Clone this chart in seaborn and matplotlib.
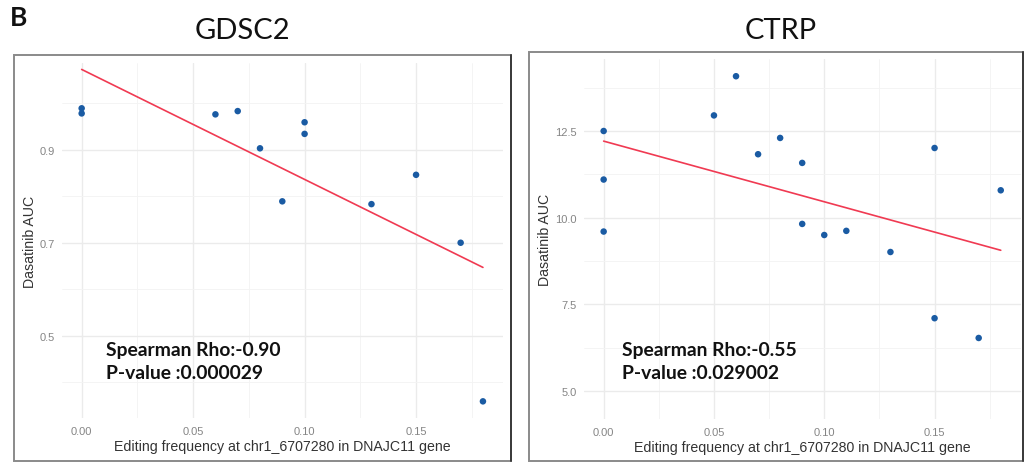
import numpy as np
import pandas as pd
import matplotlib
matplotlib.use("Agg")
import matplotlib.pyplot as plt
from matplotlib.patches import Rectangle
from matplotlib.ticker import MultipleLocator, FormatStrFormatter
import seaborn as sns

# GDSC2: editing frequency vs Dasatinib AUC
gdsc_freq = [0.00, 0.00, 0.06, 0.07, 0.08, 0.09, 0.10, 0.10, 0.13, 0.15, 0.17, 0.18]
gdsc_auc = [0.989, 0.978, 0.976, 0.983, 0.903, 0.789, 0.959, 0.934, 0.783, 0.846, 0.700, 0.359]

# CTRP: editing frequency vs Dasatinib AUC
ctrp_freq = [0.00, 0.00, 0.00, 0.05, 0.06, 0.07, 0.08, 0.09, 0.09, 0.10, 0.11, 0.13,
             0.15, 0.15, 0.17, 0.18]
ctrp_auc = [12.50, 11.10, 9.60, 12.95, 14.08, 11.83, 12.30, 11.58, 9.82, 9.50, 9.62, 9.01,
            12.01, 7.10, 6.53, 10.79]

panel_titles = ["GDSC2", "CTRP"]
stat_labels = [("Spearman Rho:-0.90", "P-value :0.000029"),
               ("Spearman Rho:-0.55", "P-value :0.029002")]
x_label = "Editing frequency at chr1_6707280 in DNAJC11 gene"
y_label = "Dasatinib AUC"

POINT_COLOR = "#1A5BA3"
LINE_COLOR = "#F03A52"
GRID_MAJOR = "#EBEBEB"
GRID_MINOR = "#F3F3F3"

sns.set_theme(style="white")
plt.rcParams["font.family"] = ["Liberation Sans", "DejaVu Sans"]

W, H = 1025, 464
fig = plt.figure(figsize=(W / 100, H / 100), dpi=100)


def px_rect(x0, y0, x1, y1):
    """Convert a pixel box (top-left origin) into figure fractions."""
    return [x0 / W, 1 - y1 / H, (x1 - x0) / W, (y1 - y0) / H]


# outer boxes around each panel
for (x0, y0, x1, y1) in [(14, 56, 511, 462), (529, 53, 1023, 462)]:
    l, b, w, h = px_rect(x0, y0, x1, y1)
    fig.patches.append(Rectangle((l, b), w, h, transform=fig.transFigure,
                                 fill=False, edgecolor="#8A8A8A", linewidth=1.4))
    fig.lines.append(plt.Line2D([x1 / W, x1 / W], [1 - y1 / H, 1 - y0 / H],
                                transform=fig.transFigure, color="#3A3A3A", linewidth=1.4))

ax_gdsc = fig.add_axes(px_rect(61.6, 64, 503, 419))
ax_ctrp = fig.add_axes(px_rect(583.8, 60, 1020.6, 420))

# axis, y-limits, major step, major offset, minor step, text anchor
panels = [
    (ax_gdsc, gdsc_freq, gdsc_auc, (0.3232, 1.0864), 0.2, 0.1, 0.1, (0.0109, 0.470, 0.420)),
    (ax_ctrp, ctrp_freq, ctrp_auc, (4.193, 14.577), 2.5, 0.0, 1.25, (0.0083, 6.19, 5.52)),
]

for i, (ax, xs, ys, ylim, ymaj, yoff, ymin, txt) in enumerate(panels):
    df = pd.DataFrame({"freq": xs, "auc": ys})
    ax.set_xlim(-0.009, 0.189)
    ax.set_ylim(*ylim)
    ax.xaxis.set_major_locator(MultipleLocator(0.05))
    ax.xaxis.set_minor_locator(MultipleLocator(0.025))
    ax.yaxis.set_major_locator(MultipleLocator(ymaj, offset=yoff))
    ax.yaxis.set_minor_locator(MultipleLocator(ymin))
    ax.grid(which="major", color=GRID_MAJOR, linewidth=1.0)
    ax.grid(which="minor", color=GRID_MINOR, linewidth=0.6)
    ax.set_axisbelow(True)
    for s in ax.spines.values():
        s.set_visible(False)

    sns.regplot(data=df, x="freq", y="auc", ax=ax, ci=None, scatter=False,
                truncate=True, line_kws={"color": LINE_COLOR, "linewidth": 1.2})
    sns.scatterplot(data=df, x="freq", y="auc", ax=ax, color=POINT_COLOR,
                    s=22, edgecolor="none", zorder=3)

    ax.yaxis.set_major_formatter(FormatStrFormatter("%.1f"))
    ax.xaxis.set_major_formatter(FormatStrFormatter("%.2f"))
    ax.tick_params(which="both", length=0, labelsize=8, labelcolor="#858585")
    ax.tick_params(axis="x", pad=6)
    ax.tick_params(axis="y", pad=5)
    ax.set_xlabel(x_label, fontsize=10.2, color="#333333", labelpad=2)
    ax.set_ylabel(y_label, fontsize=10.2, color="#333333", labelpad=2)

    tx, ty1, ty2 = txt
    for ty, label in zip((ty1, ty2), stat_labels[i]):
        ax.text(tx, ty, label, fontsize=13.9, fontweight="bold",
                family=["Lato", "DejaVu Sans"], color="#111111", va="center", ha="left")

# panel titles and panel letter
fig.text(242 / W, 1 - 31 / H, panel_titles[0], fontsize=21, family=["Lato", "DejaVu Sans"],
         ha="center", va="center", color="#111111")
fig.text(781 / W, 1 - 31 / H, panel_titles[1], fontsize=21, family=["Lato", "DejaVu Sans"],
         ha="center", va="center", color="#111111")
fig.text(10 / W, 1 - 18 / H, "B", fontsize=19, fontweight="bold",
         family=["Lato", "DejaVu Sans"], ha="left", va="center", color="#111111")

fig.savefig("out.png", dpi=100, facecolor="white")
